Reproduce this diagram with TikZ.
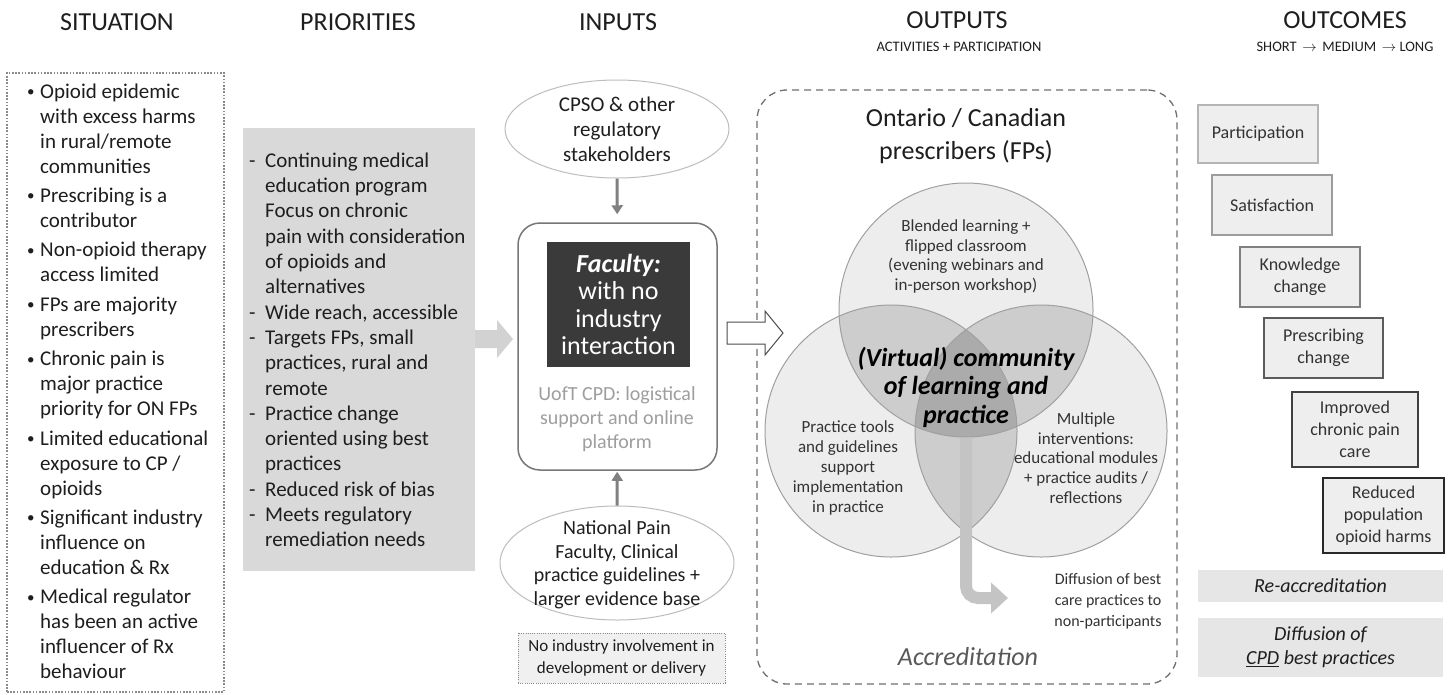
\documentclass[tikz,border=0pt]{standalone}
\usepackage{fontspec}
\setmainfont{Carlito}
\usetikzlibrary{shapes.geometric,arrows.meta}
\definecolor{ink}{HTML}{1E1E1E}
\definecolor{sitborder}{HTML}{8A8A8A}
\definecolor{priofill}{HTML}{D9D9D9}
\definecolor{arrowfill}{HTML}{D2D2D2}
\definecolor{ellgray}{HTML}{BDBDBD}
\definecolor{boxgray}{HTML}{777777}
\definecolor{darkbox}{HTML}{3A3A3A}
\definecolor{uoftgray}{HTML}{9E9E9E}
\definecolor{conngray}{HTML}{808080}
\definecolor{noindfill}{HTML}{F0F0F0}
\definecolor{dashgray}{HTML}{707070}
\definecolor{vsingle}{HTML}{EDEDED}
\definecolor{vdouble}{HTML}{CDCDCD}
\definecolor{vtriple}{HTML}{ABABAB}
\definecolor{vline}{HTML}{A0A0A0}
\definecolor{bentgray}{HTML}{C4C4C4}
\definecolor{vink}{HTML}{333333}
\definecolor{ofill}{HTML}{EEEEEE}
\definecolor{oa}{HTML}{B5B5B5}
\definecolor{ob}{HTML}{9C9C9C}
\definecolor{oc}{HTML}{808080}
\definecolor{od}{HTML}{5C5C5C}
\definecolor{oe}{HTML}{404040}
\definecolor{of}{HTML}{282828}
\definecolor{bandfill}{HTML}{E6E6E6}
\newcommand{\sbul}{\raisebox{1.6pt}{\fontsize{15}{15}\selectfont •}}
\tikzset{
  hdr/.style={font=\fontsize{26}{30}\selectfont, text=ink, inner sep=0},
  subhdr/.style={font=\fontsize{14.5}{17}\selectfont, text=ink, inner sep=0},
  body/.style={font=\fontsize{21}{25}\selectfont, text=ink, inner sep=0, align=left},
  conn/.style={draw=conngray, line width=3pt, -{Triangle[length=9pt,width=11pt]}},
  vtext/.style={font=\fontsize{17}{19.8}\selectfont, text=vink, align=center, inner sep=0},
  obox/.style={fill=ofill, line width=2pt, font=\fontsize{18}{22}\selectfont, text=vink, align=center, inner sep=0},
  band/.style={fill=bandfill, font=\fontsize{20}{24}\selectfont\itshape, text=ink, align=center, inner sep=0},
}
\begin{document}
\begin{tikzpicture}[x=1pt,y=-1pt]
\useasboundingbox (0,0) rectangle (1450,694);
\fill[white] (0,0) rectangle (1450,694);

% headers
\node[hdr] (hsit) at (117,22.5) {SITUATION};
\node[hdr] (hprio) at (358,22.5) {PRIORITIES};
\node[hdr] (hin) at (618,22.5) {INPUTS};
\node[hdr] (hout) at (957,20.5) {OUTPUTS};
\node[subhdr] (hsubout) at (959,47) {ACTIVITIES + PARTICIPATION};
\node[hdr] (hoc) at (1345,20.5) {OUTCOMES};
\node[subhdr] (hsuboc) at (1345,47) {SHORT \,$\rightarrow$\, MEDIUM \,$\rightarrow$ LONG};

% situation
\node[draw=sitborder, line width=1.6pt, dash pattern=on 1.6pt off 1.6pt, minimum width=217, minimum height=619, inner sep=0] (sitbox) at (115.5,382.5) {};
\node[body, anchor=west] (sittext) at (27,383.5) {%
\begin{tabular}{@{}p{13pt}@{}l@{}}
\sbul&Opioid epidemic\\
&with excess harms\\
&in rural/remote\\
&communities\\[4.4pt]
\sbul&Prescribing is a\\
&contributor\\[4.4pt]
\sbul&Non-opioid therapy\\
&access limited\\[4.4pt]
\sbul&FPs are majority\\
&prescribers\\[4.4pt]
\sbul&Chronic pain is\\
&major practice\\
&priority for ON FPs\\[4.4pt]
\sbul&Limited educational\\
&exposure to CP /\\
&opioids\\[4.4pt]
\sbul&Significant industry\\
&influence on\\
&education \& Rx\\[4.4pt]
\sbul&Medical regulator\\
&has been an active\\
&influencer of Rx\\
&behaviour
\end{tabular}};

% priorities
\node[fill=priofill, minimum width=232, minimum height=443, inner sep=0] (priobox) at (359,349.5) {};
\node[body, anchor=west, font=\fontsize{21}{25.3}\selectfont] (priotext) at (249,352) {%
\begin{tabular}{@{}p{16pt}@{}l@{}}
-&Continuing medical\\
&education program\\
&Focus on chronic\\
&pain with consideration\\
&of opioids and\\
&alternatives\\
-&Wide reach, accessible\\
-&Targets FPs, small\\
&practices, rural and\\
&remote\\
-&Practice change\\
&oriented using best\\
&practices\\
-&Reduced risk of bias\\
-&Meets regulatory\\
&remediation needs
\end{tabular}};
\fill[arrowfill] (475,330) -- (497,330) -- (497,320) -- (513,339) -- (497,358) -- (497,348) -- (475,348) -- cycle;

% inputs
\node[draw=ellgray, line width=1pt, ellipse, minimum width=224, minimum height=98, inner sep=0] (cpso) at (617,129) {};
\node[font=\fontsize{21}{25}\selectfont, text=ink, align=center, inner sep=0] (cpsotext) at (617,129) {CPSO \& other\\regulatory\\stakeholders};
\node[draw=boxgray, line width=1.5pt, rounded corners=22pt, minimum width=199, minimum height=247, inner sep=0] (inbox) at (617.5,346.5) {};
\node[fill=darkbox, minimum width=143, minimum height=125, inner sep=0, text=white, align=center, font=\fontsize{26}{27.5}\selectfont] (faculty) at (618.5,304.5) {\textbf{\textit{Faculty:}}\\with no\\industry\\interaction};
\node[font=\fontsize{20}{24}\selectfont, text=uoftgray, align=center, inner sep=0] (uoft) at (617,419) {UofT CPD: logistical\\support and online\\platform};
\node[draw=ellgray, line width=1pt, ellipse, minimum width=234, minimum height=114, inner sep=0] (natl) at (617,563) {};
\node[font=\fontsize{20}{23.5}\selectfont, text=ink, align=center, inner sep=0] (natltext) at (617,565) {National Pain\\Faculty, Clinical\\practice guidelines +\\larger evidence base};
\node[draw=sitborder, line width=1pt, dash pattern=on 1pt off 1.2pt, fill=noindfill, minimum width=207, minimum height=50, inner sep=0, font=\fontsize{17}{22}\selectfont, text=ink, align=center] (noind) at (621.5,658) {No industry involvement in\\development or delivery};
\draw[conn, shorten >=8pt] (cpso) -- (inbox);
\draw[conn, shorten >=1pt] (natl) -- (inbox);

% outputs
\node[draw=dashgray, line width=1.3pt, dash pattern=on 7pt off 5pt, rounded corners=30pt, minimum width=420, minimum height=594, inner sep=0] (outbox) at (967,387) {};
\draw[draw=black!70, fill=white, line width=1pt] (727,322) -- (765,322) -- (765,311) -- (783,333) -- (765,355) -- (765,344) -- (727,344) -- cycle;
\node[font=\fontsize{26}{33}\selectfont, text=ink, align=center, inner sep=0] (ont) at (966,136) {Ontario / Canadian\\prescribers (FPs)};

\fill[vsingle] (966,310) circle[radius=127pt];
\fill[vsingle] (891,431) circle[radius=126pt];
\fill[vsingle] (1041,431) circle[radius=126pt];
\begin{scope}
\clip (966,310) circle[radius=127pt];
\fill[vdouble] (891,431) circle[radius=126pt];
\fill[vdouble] (1041,431) circle[radius=126pt];
\end{scope}
\begin{scope}
\clip (891,431) circle[radius=126pt];
\fill[vdouble] (1041,431) circle[radius=126pt];
\end{scope}
\begin{scope}
\clip (966,310) circle[radius=127pt];
\clip (891,431) circle[radius=126pt];
\fill[vtriple] (1041,431) circle[radius=126pt];
\end{scope}
\node[draw=vline, line width=1pt, circle, minimum size=254, inner sep=0] (ctop) at (966,310) {};
\node[draw=vline, line width=1pt, circle, minimum size=252, inner sep=0] (cleft) at (891,431) {};
\node[draw=vline, line width=1pt, circle, minimum size=252, inner sep=0] (cright) at (1041,431) {};

\coordinate (diffend) at (1008,598);
\draw[draw=bentgray, line width=12pt, rounded corners=12pt, -{Triangle[length=17pt,width=30pt]}] (ctop.south) |- (diffend);

\node[vtext] (blended) at (966,256.5) {Blended learning +\\flipped classroom\\(evening webinars and\\in-person workshop)};
\node[vtext] (tools) at (848,468) {Practice tools\\and guidelines\\support\\implementation\\in practice};
\node[vtext] (multi) at (1086,458) {Multiple\\interventions:\\educational modules\\+ practice audits /\\reflections};
\node[font=\fontsize{26}{28.5}\selectfont\bfseries\itshape, text=black, align=center, inner sep=0] (vcom) at (966,387) {(Virtual) community\\of learning and\\practice};
\node[font=\fontsize{16}{21}\selectfont, text=vink, align=center, inner sep=0] (difftext) at (1108,601) {Diffusion of best\\care practices to\\non-participants};
\node[font=\fontsize{26}{30}\selectfont\itshape, text=black!65, inner sep=0] (accr) at (968,657) {Accreditation};

% outcomes
\node[obox, draw=oa, minimum width=120, minimum height=58] (part) at (1258,134) {Participation};
\node[obox, draw=ob, minimum width=120, minimum height=60] (satis) at (1272,205) {Satisfaction};
\node[obox, draw=oc, minimum width=120, minimum height=60] (know) at (1300,277) {Knowledge\\change};
\node[obox, draw=od, minimum width=119, minimum height=60] (presc) at (1323.5,348) {Prescribing\\change};
\node[obox, draw=oe, minimum width=126, minimum height=75] (impr) at (1355,429.5) {Improved\\chronic pain\\care};
\node[obox, draw=of, minimum width=121, minimum height=75] (redu) at (1383.5,515.5) {Reduced\\population\\opioid harms};
\node[band, minimum width=245, minimum height=32] (reacc) at (1320.5,586) {Re-accreditation};
\node[band, minimum width=245, minimum height=59] (diffcpd) at (1320.5,647.5) {Diffusion of\\\underline{CPD} best practices};
\end{tikzpicture}
\end{document}
